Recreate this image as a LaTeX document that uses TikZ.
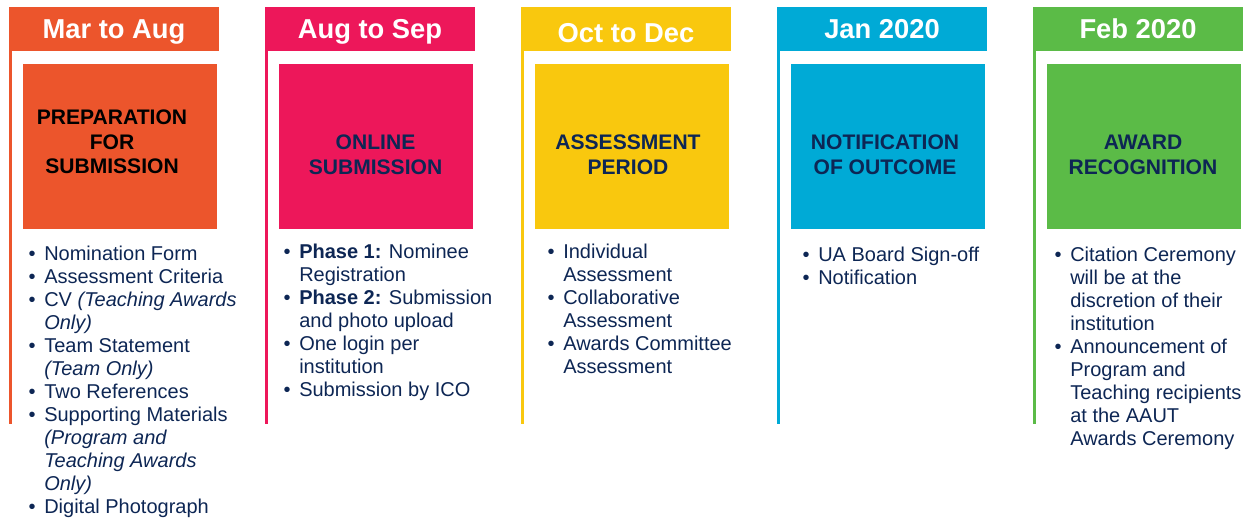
\documentclass[tikz,border=0pt]{standalone}
\usepackage{fontspec}
\setmainfont{Liberation Sans}
\definecolor{orng}{HTML}{EC552C}
\definecolor{pnk}{HTML}{ED175A}
\definecolor{yllw}{HTML}{F9C80E}
\definecolor{blu}{HTML}{00AAD6}
\definecolor{grn}{HTML}{5BBB47}
\definecolor{navy}{HTML}{0D2654}
\newcommand{\bul}{\llap{\textbullet\hspace{6.4pt}}}
\begin{document}
\begin{tikzpicture}[x=0.75pt,y=-0.75pt,
  tab/.style={minimum width=157.5pt,minimum height=33pt,inner sep=0pt,text=white,
    text height=14.7pt,text depth=0pt,
    font=\fontsize{20.5}{24}\selectfont\bfseries},
  phase/.style={minimum width=145.5pt,minimum height=123.75pt,inner sep=0pt},
  phasetxt/.style={align=center,inner sep=0pt,text=navy,
    font=\fontsize{15.8}{18.4}\selectfont\bfseries},
  lst/.style={align=left,anchor=north west,inner sep=0pt,text=navy,
    font=\fontsize{15}{17.25}\selectfont},
  rail/.style={line width=2.25pt}]
\useasboundingbox (0,0) rectangle (1251,517);

\node[tab,fill=orng] (t1) at (114,29) {Mar to Aug};
\node[tab,fill=pnk] (t2) at (370,29) {Aug to Sep};
\node[tab,fill=yllw,text height=20.7pt] (t3) at (626,29) {Oct to Dec};
\node[tab,fill=blu] (t4) at (882,29) {Jan 2020};
\node[tab,fill=grn] (t5) at (1138,29) {Feb 2020};

\coordinate (e1) at (10.5,424);
\coordinate (e2) at (266.5,424);
\coordinate (e3) at (522.5,424);
\coordinate (e4) at (778.5,424);
\coordinate (e5) at (1034.5,424);
\draw[rail,orng] (t1.south west -| e1) -- (e1);
\draw[rail,pnk] (t2.south west -| e2) -- (e2);
\draw[rail,yllw] (t3.south west -| e3) -- (e3);
\draw[rail,blu] (t4.south west -| e4) -- (e4);
\draw[rail,grn] (t5.south west -| e5) -- (e5);

\node[phase,fill=orng] (b1) at (119.5,146.5) {};
\node[phase,fill=pnk] (b2) at (375.5,146.5) {};
\node[phase,fill=yllw] (b3) at (631.5,146.5) {};
\node[phase,fill=blu] (b4) at (887.5,146.5) {};
\node[phase,fill=grn] (b5) at (1143.5,146.5) {};

\node[phasetxt,text=black] (p1) at (112,142) {PREPARATION\\FOR\\SUBMISSION};
\node[phasetxt] (p2) at (375.5,155) {ONLINE\\SUBMISSION};
\node[phasetxt] (p3) at (628,155) {ASSESSMENT\\PERIOD};
\node[phasetxt] (p4) at (885,155) {NOTIFICATION\\OF OUTCOME};
\node[phasetxt] (p5) at (1143,155) {AWARD\\RECOGNITION};

\node[lst] (l1) at (44,246) {\bul Nomination Form\\
\bul Assessment Criteria\\
\bul CV \textit{(Teaching Awards}\\
\textit{Only)}\\
\bul Team Statement\\
\textit{(Team Only)}\\
\bul Two References\\
\bul Supporting Materials\\
\textit{(Program and}\\
\textit{Teaching Awards}\\
\textit{Only)}\\
\bul Digital Photograph};
\node[lst] (l2) at (299,244) {\bul \textbf{Phase 1:} Nominee\\
Registration\\
\bul \textbf{Phase 2:} Submission\\
and photo upload\\
\bul One login per\\
institution\\
\bul Submission by ICO};
\node[lst] (l3) at (563,244) {\bul Individual\\
Assessment\\
\bul Collaborative\\
Assessment\\
\bul Awards Committee\\
Assessment};
\node[lst] (l4) at (818,247) {\bul UA Board Sign-off\\
\bul Notification};
\node[lst] (l5) at (1070,247) {\bul Citation Ceremony\\
will be at the\\
discretion of their\\
institution\\
\bul Announcement of\\
Program and\\
Teaching recipients\\
at the AAUT\\
Awards Ceremony};
\end{tikzpicture}
\end{document}
